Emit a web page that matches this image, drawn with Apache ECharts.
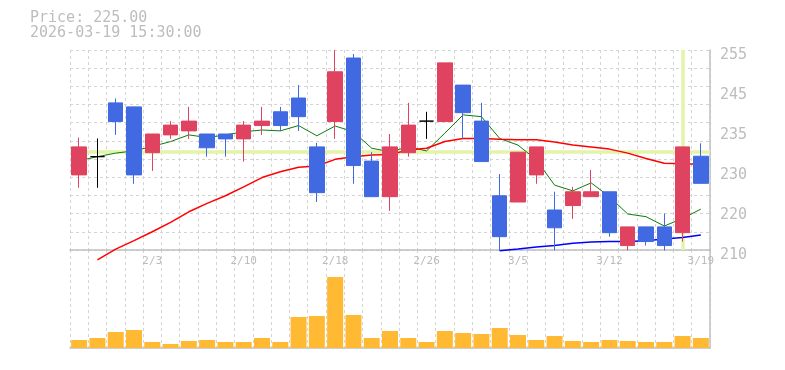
<!DOCTYPE html>
<html>
<head>
<meta charset="utf-8">
<script src="https://cdn.jsdelivr.net/npm/echarts@6/dist/echarts.min.js"></script>
<style>
html,body{margin:0;padding:0;background:#fff;}
#chart{width:785px;height:370px;}
</style>
</head>
<body>
<div id="chart"></div>
<script>
const dates = ['1/28','1/29','1/30','2/2','2/3','2/4','2/5','2/6','2/9','2/10','2/12','2/13','2/16','2/17','2/18','2/19','2/20','2/24','2/25','2/26','2/27','3/2','3/3','3/4','3/5','3/6','3/9','3/10','3/11','3/12','3/13','3/16','3/17','3/18','3/19'];
const xTickLabels = ['2/3','2/10','2/18','2/26','3/5','3/12','3/19'];
const opens  = [226.9,231.0,243.1,242.2,231.9,235.9,236.8,236.1,236.1,235.0,238.0,241.1,244.2,233.2,238.9,253.2,230.0,222.0,231.9,239.0,238.9,247.1,239.0,222.2,220.8,226.9,219.0,220.0,222.0,223.1,211.0,215.2,215.2,213.9,231.1];
const closes = [233.2,231.0,238.9,226.9,236.1,238.1,239.0,233.0,235.0,238.1,239.0,238.0,240.0,222.9,250.1,229.0,222.0,233.2,238.1,239.0,252.1,240.9,229.9,213.0,232.0,233.2,215.0,223.1,223.1,213.9,215.2,211.9,211.0,233.2,225.0];
const lows   = [224.0,224.0,235.9,224.9,227.8,235.0,235.0,231.0,231.0,229.9,235.9,236.8,236.8,220.8,235.0,224.9,222.0,218.8,231.0,235.0,238.9,235.0,229.9,209.8,220.8,224.9,209.9,217.0,222.0,213.0,209.9,211.0,209.9,211.9,225.0];
const highs  = [235.3,235.1,244.1,242.2,236.1,239.0,242.2,236.1,236.1,239.0,242.2,242.2,247.1,234.1,255.0,254.1,232.0,236.1,243.1,241.1,252.1,247.1,243.1,227.1,232.0,233.2,223.1,224.2,228.0,223.1,215.2,215.2,218.2,233.2,234.0];
const maShort = [230.1,231.0,231.8,232.3,233.3,234.4,235.9,235.3,235.9,236.6,237.0,236.8,238.0,235.7,237.9,236.6,232.9,232.1,233.2,232.3,236.3,240.4,240.0,235.1,233.6,230.3,224.6,223.3,225.1,222.0,218.1,217.5,215.4,217.1,219.2];
const maMid = [null,207.8,210.2,212.1,214.1,216.2,218.6,220.5,222.2,224.2,226.3,227.6,228.6,228.9,230.4,231.0,231.4,231.5,232.5,232.9,234.4,235.1,235.1,234.9,234.8,234.8,234.3,233.6,233.2,232.7,231.8,230.6,229.5,229.4,229.3];
const maLong = [null,null,null,null,null,null,null,null,null,null,null,null,null,null,null,null,null,null,null,null,null,null,null,209.85,210.2,210.7,211.0,211.5,211.8,211.9,211.9,212.1,212.5,212.8,213.4];
const volumes = [800,1000,1600,1800,600,400,700,800,600,600,1000,600,3100,3200,7100,3300,1000,1700,1000,600,1700,1500,1400,2000,1300,800,1200,700,600,800,700,600,600,1200,1000];
const yTickValues = [210,219,228,237,246,255];
const yTickLabels = ['210','220','230','235','245','255'];
const crossPrice = 232;
const crossDate = '3/18';
const stampTime = '2026-03-19 15:30:00';

const UP = '#e0435f', DOWN = '#4169e1', GRID = '#d4d4d4', AXIS = '#c0c0c0', TXT = '#bdbdbd';
const MONO = '"DejaVu Sans Mono", "Liberation Mono", monospace';

const candleData = dates.map((d, i) => {
  const item = { value: [opens[i], closes[i], lows[i], highs[i]] };
  if (opens[i] === closes[i]) {
    item.itemStyle = { color: '#000', color0: '#000', borderColor: '#000', borderColor0: '#000', borderColorDoji: '#000' };
  }
  return item;
});

const chart = echarts.init(document.getElementById('chart'), null, { renderer: 'canvas' });
chart.setOption({
  animation: false,
  backgroundColor: '#fff',
  graphic: [
    { type: 'text', left: 30, top: 11, style: { text: 'Price: ' + closes[closes.length - 1].toFixed(2), fill: TXT, font: '15px ' + MONO } },
    { type: 'text', left: 30, top: 26, style: { text: stampTime, fill: TXT, font: '15px ' + MONO } }
  ],
  grid: [
    { left: 70, right: 75, top: 50, height: 200 },
    { left: 70, right: 75, top: 250, height: 98 }
  ],
  xAxis: [
    {
      type: 'category', gridIndex: 0, data: dates, boundaryGap: true,
      axisLine: { show: true, lineStyle: { color: AXIS, width: 1.5 } },
      axisTick: { show: false },
      axisLabel: {
        interval: (idx, val) => xTickLabels.indexOf(val) >= 0,
        color: TXT, fontFamily: MONO, fontSize: 11, margin: 6
      },
      splitLine: { show: true, interval: 0, lineStyle: { color: GRID, type: [3, 3], width: 1 } }
    },
    {
      type: 'category', gridIndex: 1, data: dates, boundaryGap: true, offset: 2,
      axisLine: { show: true, lineStyle: { color: AXIS, width: 1.5 } },
      axisTick: { show: false },
      axisLabel: { show: false },
      splitLine: { show: true, interval: 0, lineStyle: { color: GRID, type: [3, 3], width: 1 } }
    }
  ],
  yAxis: [
    {
      type: 'value', gridIndex: 0, position: 'right', min: 210, max: 255,
      axisLine: { show: true, lineStyle: { color: AXIS, width: 1.5 } },
      axisTick: { show: false },
      splitLine: { show: false },
      axisLabel: {
        customValues: yTickValues,
        formatter: (v) => { const k = yTickValues.indexOf(v); return k >= 0 ? yTickLabels[k] : ''; },
        color: TXT, fontFamily: MONO, fontSize: 15, margin: 10,
        verticalAlign: 'top', lineHeight: 10
      }
    },
    {
      type: 'value', gridIndex: 0, position: 'left', min: 0, max: 11, interval: 1,
      axisLine: { show: false }, axisTick: { show: false }, axisLabel: { show: false },
      splitLine: { show: true, lineStyle: { color: GRID, type: [3, 3], width: 1 } }
    },
    {
      type: 'value', gridIndex: 1, position: 'right', min: 0, max: 9800,
      axisLine: { show: true, lineStyle: { color: AXIS, width: 1.5 } },
      axisTick: { show: false }, axisLabel: { show: false }, splitLine: { show: false }
    }
  ],
  series: [
    {
      type: 'line', xAxisIndex: 0, yAxisIndex: 0, data: maShort, z: 3,
      showSymbol: false, symbol: 'none', clip: false,
      lineStyle: { color: '#0a7d0a', width: 1 },
      markLine: {
        silent: true, symbol: 'none', z: 1, animation: false,
        label: { show: false },
        lineStyle: { color: '#e4f3aa', width: 3.5, type: 'solid' },
        data: [{ yAxis: crossPrice }, { xAxis: crossDate }]
      }
    },
    {
      type: 'line', xAxisIndex: 0, yAxisIndex: 0, data: maMid, z: 3,
      showSymbol: false, symbol: 'none', clip: false,
      lineStyle: { color: '#ff0000', width: 1.5 }
    },
    {
      type: 'line', xAxisIndex: 0, yAxisIndex: 0, data: maLong, z: 3,
      showSymbol: false, symbol: 'none', clip: false,
      lineStyle: { color: '#0000ff', width: 1.5 }
    },
    {
      type: 'candlestick', xAxisIndex: 0, yAxisIndex: 0, data: candleData, z: 5,
      barWidth: 15, clip: false,
      itemStyle: { color: UP, color0: DOWN, borderColor: UP, borderColor0: DOWN, borderColorDoji: '#000', borderWidth: 1 }
    },
    {
      type: 'bar', xAxisIndex: 1, yAxisIndex: 2, data: volumes, barWidth: 16,
      itemStyle: { color: '#ffb933' }
    }
  ]
});
</script>
</body>
</html>
